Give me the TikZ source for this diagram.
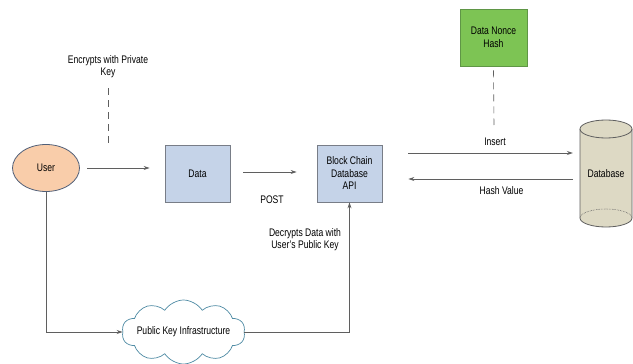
\documentclass[tikz,border=0pt]{standalone}
\usepackage{fontspec}
\setmainfont{Liberation Sans}[FakeStretch=0.78]
\usetikzlibrary{shapes.symbols,shapes.geometric,arrows.meta}
\definecolor{userfill}{RGB}{249,205,170}
\definecolor{userline}{RGB}{80,95,120}
\definecolor{boxfill}{RGB}{197,211,232}
\definecolor{boxline}{RGB}{120,125,135}
\definecolor{greenfill}{RGB}{125,196,84}
\definecolor{greenline}{RGB}{95,150,70}
\definecolor{dbfill}{RGB}{221,217,196}
\definecolor{cloudline}{RGB}{80,140,165}
\definecolor{conn}{RGB}{95,95,95}
\tikzset{
  txt/.style={font=\fontsize{11}{12.5}\selectfont, align=center, inner sep=0pt},
  bluebox/.style={txt, draw=boxline, fill=boxfill, line width=0.8pt, minimum width=65pt, minimum height=57pt},
  arr/.style={draw=conn, line width=0.8pt, -{Stealth[length=6pt,width=4pt]}},
  dsh/.style={draw=conn, line width=0.6pt, dash pattern=on 7pt off 5pt}
}
\begin{document}
\begin{tikzpicture}[x=1pt,y=-1pt]
\useasboundingbox[fill=white] (0,0) rectangle (633,364);
% nodes
\node[txt, draw=userline, fill=userfill, ellipse, minimum width=67pt, minimum height=47pt, line width=0.8pt] (user) at (46,168) {User};
\node[bluebox] (data) at (197.5,173.5) {Data};
\node[bluebox] (api) at (349.5,173.5) {Block Chain\\Database\\API};
\node[txt, draw=greenline, fill=greenfill, line width=0.8pt, minimum width=67pt, minimum height=57pt] (nonce) at (493.5,37.5) {Data Nonce\\Hash};
\node[cloud, cloud puffs=10, cloud puff arc=115, draw=cloudline, fill=white, line width=0.7pt, inner sep=0pt, minimum width=123pt, minimum height=64pt] (pki) at (183.5,332) {};
\node[txt] (pkitext) at (pki.center) {Public Key Infrastructure};
% database cylinder
\filldraw[draw=conn, fill=dbfill, line width=0.8pt] (580,129) -- (580,218) arc[start angle=180, end angle=360, x radius=26pt, y radius=9pt] -- (632,129) arc[start angle=0, end angle=180, x radius=26pt, y radius=9pt] -- cycle;
\draw[draw=conn, line width=0.8pt] (580,129) arc[start angle=180, end angle=360, x radius=26pt, y radius=9pt];
\draw[draw=conn, line width=0.6pt, densely dotted] (580,218) arc[start angle=180, end angle=0, x radius=26pt, y radius=9pt];
\node[txt, minimum width=52pt, minimum height=90pt] (db) at (606,173.5) {Database};
% labels
\node[txt] (enc) at (108,66.5) {Encrypts with Private\\Key};
\node[txt] (post) at (272,200) {POST};
\node[txt] (ins) at (495,142) {Insert};
\node[txt] (hash) at (501.5,191) {Hash Value};
\node[txt] (dec) at (305,239.5) {Decrypts Data with\\User's Public Key};
\coordinate (encEnd) at (108,146);
\coordinate (nonceEnd) at (494,125);
% connectors
\draw[dsh] ([yshift=-10pt]enc.south) -- (encEnd);
\draw[dsh] ([yshift=-4pt]nonce.south) -- (nonceEnd);
\draw[arr, shorten <=7.5pt, shorten >=15pt] (user.east) -- (user.east -| data.west);
\draw[arr, shorten <=13pt, shorten >=20pt] ([yshift=1.5pt]data.east) -- ([yshift=1.5pt]api.west);
\draw[arr, shorten <=26pt, shorten >=7pt] ([yshift=20.5pt]api.east) -- ([yshift=20.5pt]db.west);
\draw[arr, shorten <=7pt, shorten >=26pt] ([yshift=-5.5pt]db.west) -- ([yshift=-5.5pt]api.east);
\draw[arr] (user.south) |- (pki.west);
\draw[arr] (pki.east) -| (api.south);
\end{tikzpicture}
\end{document}
